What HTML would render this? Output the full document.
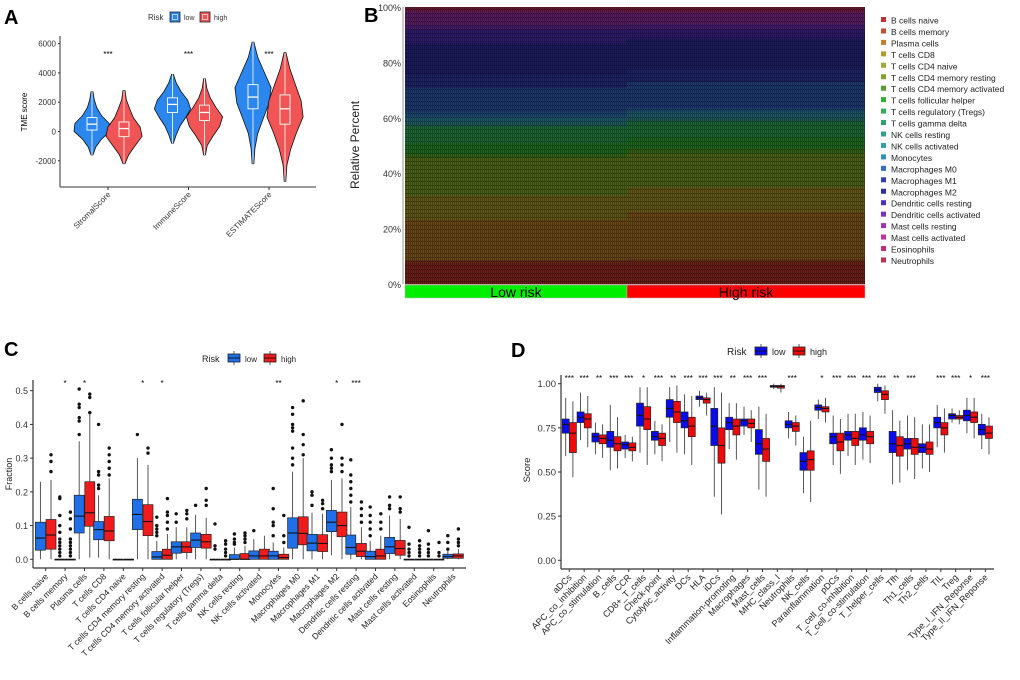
<!DOCTYPE html>
<html><head><meta charset="utf-8"><style>
html,body{margin:0;padding:0;background:#fff}
svg{display:block;font-family:"Liberation Sans",Arial,sans-serif}
</style></head><body>
<svg id="fig" width="1020" height="680" viewBox="0 0 1020 680" xmlns="http://www.w3.org/2000/svg">
<defs>
<pattern id="stripes" width="2" height="4" patternUnits="userSpaceOnUse"><rect x="0" y="0" width="0.7" height="4" fill="#000" opacity="0.45"/><rect x="1.2" y="1" width="0.8" height="1" fill="#000" opacity="0.5"/></pattern>
</defs>
<g id="A"></g><g id="B"></g><g id="C"></g><g id="D"></g>
</svg>
<script>
// ---------- Panel A data ----------
const aCats = ["StromalScore","ImmuneScore","ESTIMATEScore"];
const aTicks = [-2000,0,2000,4000,6000];
const aLow  = [[-1600,100,500,950,2700],[-800,1300,1850,2300,3900],[-2200,1550,2350,3200,6100]];
const aHigh = [[-2200,-350,200,650,2800],[-1600,750,1300,1800,3600],[-3400,500,1550,2500,5400]];
const aLowDens  = [[0.05,0.2,0.5,0.95,0.9,0.5,0.25,0.12,0.05],[0.05,0.2,0.4,0.7,0.95,0.8,0.45,0.2,0.05],[0.05,0.1,0.25,0.55,0.85,0.95,0.6,0.25,0.05]];
const aHighDens = [[0.05,0.25,0.6,0.95,0.85,0.5,0.3,0.12,0.05],[0.05,0.15,0.45,0.8,0.95,0.6,0.3,0.12,0.05],[0.04,0.1,0.3,0.6,0.95,0.85,0.55,0.25,0.05]];
const aStars = ["***","***","***"];
// ---------- Panel B data ----------
const bTypes = ["B cells naive","B cells memory","Plasma cells","T cells CD8","T cells CD4 naive","T cells CD4 memory resting","T cells CD4 memory activated","T cells follicular helper","T cells regulatory (Tregs)","T cells gamma delta","NK cells resting","NK cells activated","Monocytes","Macrophages M0","Macrophages M1","Macrophages M2","Dendritic cells resting","Dendritic cells activated","Mast cells resting","Mast cells activated","Eosinophils","Neutrophils"];
const bLowMean  = [0.08,0.01,0.15,0.09,0.001,0.14,0.015,0.04,0.06,0.005,0.01,0.02,0.02,0.09,0.05,0.115,0.05,0.02,0.045,0.005,0.005,0.01];
const bHighMean = [0.08,0.01,0.17,0.09,0.001,0.12,0.02,0.04,0.055,0.005,0.012,0.02,0.012,0.095,0.05,0.105,0.035,0.02,0.038,0.005,0.005,0.012];
const bTicks = [0,20,40,60,80,100];
const bGroups = ["Low risk","High risk"];
const bGroupN = [180,193];
// ---------- Panel C data ----------
const cCats = ["B cells naive","B cells memory","Plasma cells","T cells CD8","T cells CD4 naive","T cells CD4 memory resting","T cells CD4 memory activated","T cells follicular helper","T cells regulatory (Tregs)","T cells gamma delta","NK cells resting","NK cells activated","Monocytes","Macrophages M0","Macrophages M1","Macrophages M2","Dendritic cells resting","Dendritic cells activated","Mast cells resting","Mast cells activated","Eosinophils","Neutrophils"];
const cLow = [[0,.027,.063,.11,.23],[0,0,0,0,0],[0,.078,.128,.19,.35],[.005,.058,.088,.112,.19],[0,0,0,0,0],[0,.088,.133,.178,.30],[0,0,.007,.023,.055],[0,.018,.037,.052,.095],[0,.035,.057,.078,.132],[0,0,0,0,0],[0,0,0,.014,.035],[0,0,.01,.025,.06],[0,0,.01,.024,.05],[0,.033,.078,.123,.26],[0,.025,.048,.074,.138],[.012,.082,.11,.145,.235],[0,.015,.035,.072,.155],[0,0,.008,.024,.055],[0,.017,.037,.065,.13],[0,0,0,0,0],[0,0,0,0,0],[0,.003,.008,.015,.025]];
const cHigh = [[0,.03,.072,.118,.235],[0,0,0,0,0],[.005,.098,.138,.23,.43],[0,.055,.084,.127,.24],[0,0,0,0,0],[0,.07,.112,.162,.28],[0,0,.012,.03,.075],[0,.02,.037,.052,.095],[0,.033,.052,.074,.123],[0,0,0,0,0],[0,0,0,.017,.04],[0,0,.01,.03,.07],[0,0,.005,.015,.035],[0,.043,.077,.126,.30],[0,.023,.047,.073,.135],[0,.067,.10,.14,.24],[0,.008,.024,.047,.095],[0,0,.01,.03,.07],[0,.012,.032,.056,.12],[0,0,0,0,0],[0,0,0,0,0],[0,.003,.01,.016,.03]];
const cLowOut = [[],[.01,.02,.03,.04,.05,.06,.08,.1,.13,.18,.185],[.37,.41,.42,.45,.46,.505],[.21,.22,.25,.26,.40],[],[.37],[.07,.08,.09,.1,.125],[.11,.135],[.16],[.03,.04,.105],[.045,.05,.06,.075],[.085],[.07,.1,.11,.15,.21],[.28,.3,.33,.38,.39,.4,.43,.45],[.16,.19,.2],[.26,.27,.28,.3,.325],[.17,.19,.21,.23,.25,.295],[.07,.09,.11,.13,.155],[.15,.16,.185],[.01,.02,.03,.045,.095],[.01,.02,.03,.045,.085],[.03,.05,.07]];
const cHighOut = [[.26,.29,.31],[.01,.02,.03,.04,.05,.06,.09,.12,.14],[.435,.48,.49],[.25,.27,.29,.31,.33],[],[.315,.33],[.09,.11,.13,.14,.18],[.12,.135,.145],[.16,.175,.21],[.01,.02,.03,.045,.055],[.05,.06,.07,.078],[],[.05,.07,.13],[.31,.34,.37,.47],[.15,.165,.175],[.26,.28,.3,.4],[.11,.13,.15,.17],[.09,.11,.135],[.14,.15,.185],[.01,.02,.03,.04,.055],[.01,.02,.05],[.04,.05,.06,.09]];
const cStars = ["","*","*","","","*","*","","","","","","**","","","*","***","","","","",""];
const cTicks = [0,0.1,0.2,0.3,0.4,0.5];
// ---------- Panel D data ----------
const dCats = ["aDCs","APC_co_inhibition","APC_co_stimulation","B_cells","CCR","CD8+_T_cells","Check-point","Cytolytic_activity","DCs","HLA","iDCs","Inflammation-promoting","Macrophages","Mast_cells","MHC_class_I","Neutrophils","NK_cells","Parainflammation","pDCs","T_cell_co-inhibition","T_cell_co-stimulation","T_helper_cells","Tfh","Th1_cells","Th2_cells","TIL","Treg","Type_I_IFN_Reponse","Type_II_IFN_Reponse"];
const dLow = [[.59,.72,.77,.80,.92],[.68,.78,.81,.84,.95],[.60,.67,.70,.72,.78],[.51,.64,.68,.73,.88],[.58,.63,.655,.67,.71],[.61,.76,.82,.89,.98],[.60,.68,.70,.73,.79],[.67,.81,.86,.91,.98],[.60,.75,.79,.84,.94],[.87,.91,.92,.93,.96],[.36,.65,.76,.86,.98],[.63,.74,.78,.81,.89],[.71,.76,.79,.80,.87],[.40,.60,.66,.74,.87],[.97,.98,.985,.99,1.0],[.69,.75,.77,.79,.84],[.38,.51,.56,.61,.70],[.80,.85,.865,.88,.91],[.54,.66,.70,.72,.82],[.59,.68,.71,.73,.83],[.57,.68,.71,.75,.84],[.90,.95,.965,.98,1.0],[.43,.61,.66,.73,.85],[.51,.63,.66,.69,.82],[.52,.61,.64,.66,.77],[.64,.75,.78,.81,.88],[.78,.80,.82,.83,.86],[.72,.79,.82,.85,.92],[.63,.71,.74,.77,.83]];
const dHigh = [[.47,.61,.72,.78,.90],[.64,.75,.80,.83,.93],[.58,.66,.69,.71,.77],[.52,.62,.66,.70,.81],[.56,.62,.64,.665,.70],[.54,.74,.80,.87,.98],[.56,.65,.69,.72,.77],[.61,.78,.84,.90,.99],[.54,.70,.76,.81,.93],[.82,.89,.91,.92,.95],[.26,.55,.65,.75,.95],[.57,.71,.76,.80,.89],[.67,.75,.775,.80,.85],[.36,.56,.63,.69,.83],[.95,.975,.985,.99,1.0],[.65,.73,.76,.78,.82],[.33,.51,.57,.62,.79],[.78,.84,.86,.87,.92],[.49,.62,.67,.72,.80],[.54,.65,.69,.73,.83],[.55,.66,.70,.73,.82],[.83,.91,.94,.96,.99],[.44,.59,.65,.70,.79],[.46,.60,.64,.69,.81],[.50,.60,.63,.67,.77],[.61,.71,.75,.78,.86],[.77,.80,.81,.82,.85],[.69,.78,.81,.84,.92],[.60,.69,.72,.76,.81]];
const dStars = ["***","***","**","***","***","*","***","**","***","***","***","**","***","***","","***","","*","***","***","***","***","**","***","","***","***","*","***"];
const dTicks = [0,0.25,0.5,0.75,1.0];

const NS="http://www.w3.org/2000/svg";
function mk(parent,tag,attrs,txt){const e=document.createElementNS(NS,tag);for(const k in attrs)e.setAttribute(k,attrs[k]);if(txt!==undefined)e.textContent=txt;parent.appendChild(e);return e;}

// ===== Panel A =====
(function(){
const g=document.getElementById('A');
const X0=60,X1=316,Y0=36,Y1=187;
const y=v=>131.5-v*(29.3/2000);
const cx=i=>108+i*80.5;
let e;
e=mk(g,'text',{x:4,y:24,'font-size':20,'font-weight':'bold'},'A');


e=mk(g,'line',{x1:X0,y1:Y0,x2:X0,y2:Y1,stroke:'#333','stroke-width':1});


e=mk(g,'line',{x1:X0,y1:Y1,x2:X1,y2:Y1,stroke:'#333','stroke-width':1});


aTicks.forEach(t=>{
 e=mk(g,'text',{x:X0-4,y:y(t)+3,'font-size':8,'text-anchor':'end',fill:'#333'},String(t));
 
 
 mk(g,'line',{x1:X0-2,y1:y(t),x2:X0,y2:y(t),stroke:'#333'});
});
e=mk(g,'text',{x:0,y:0,'font-size':8,'text-anchor':'middle',transform:'translate(27,112) rotate(-90)'},'TME score');


function violin(c,q,d,fill,name){
 const n=d.length, step=(q[4]-q[0])/(n-1);
 let L=[],R=[];
 for(let k=0;k<n;k++){const yy=y(q[0]+k*step),w=d[k]*19;R.push([c+w,yy]);L.push([c-w,yy]);}
 let p='M'+c+','+y(q[0]);
 R.forEach(pt=>p+=' L'+pt[0].toFixed(1)+','+pt[1].toFixed(1));
 p+=' L'+c+','+y(q[4]);
 L.reverse().forEach(pt=>p+=' L'+pt[0].toFixed(1)+','+pt[1].toFixed(1));
 p+='Z';
 e=mk(g,'path',{d:p,fill:fill,stroke:'#111','stroke-width':0.8});
 
 
 mk(g,'line',{x1:c,y1:y(q[0]),x2:c,y2:y(q[4]),stroke:'#fff','stroke-width':0.8});
 e=mk(g,'rect',{x:c-5,y:y(q[3]),width:10,height:y(q[1])-y(q[3]),fill:fill,stroke:'#fff','stroke-width':0.9});
 
 
 mk(g,'line',{x1:c-5,y1:y(q[2]),x2:c+5,y2:y(q[2]),stroke:'#fff','stroke-width':1.3});
}
aCats.forEach((cat,i)=>{
 violin(cx(i)-16,aLow[i],aLowDens[i],'#2b86ee','a-low-'+i);
 violin(cx(i)+16,aHigh[i],aHighDens[i],'#f05454','a-high-'+i);
 mk(g,'line',{x1:cx(i),y1:Y1,x2:cx(i),y2:Y1+3,stroke:'#333'});
 e=mk(g,'text',{x:0,y:0,'font-size':8,'text-anchor':'end',fill:'#333',transform:`translate(${cx(i)+3},${Y1+8}) rotate(-45)`},cat);
 
 
 e=mk(g,'text',{x:cx(i),y:57,'font-size':8,'text-anchor':'middle'},aStars[i]);
 
 
});
e=mk(g,'text',{x:148,y:20,'font-size':8,fill:'#333'},'Risk');


[['low','#2b86ee',170],['high','#f05454',200]].forEach(l=>{
 e=mk(g,'rect',{x:l[2],y:12,width:10,height:10,fill:l[1],stroke:'#222','stroke-width':0.8});
 
 
 mk(g,'rect',{x:l[2]+2.5,y:14.5,width:5,height:5,fill:'none',stroke:'#fff','stroke-width':0.6});
 e=mk(g,'text',{x:l[2]+14,y:20,'font-size':7,fill:'#333'},l[0]);
 
 
});
})();

// ===== Panel B =====
(function(){
const g=document.getElementById('B');
const X0=405,X1=865,Y0=7,Y1=284;
const cols=["#c03030","#c05030","#c08030","#b09a30","#a0a840","#80a030","#50a030","#30b030","#30b050","#30a070","#30a090","#30a0b0","#3090c0","#3070c0","#3040b0","#3030a0","#5030c0","#8030c0","#a030b0","#c030a0","#c03080","#c03050"];
const dark=["#6e2018","#6a3018","#6e4a18","#645a18","#5e6420","#4e6418","#346418","#1e6a20","#1e6a34","#1e6048","#1e5a5a","#1e5a6a","#1e4a72","#1e3a72","#1e2468","#1e1c60","#2e1c6e","#4a1c6e","#5a1c62","#6a1c5a","#6a1c48","#6a1c30"];
let e;
e=mk(g,'text',{x:364,y:22,'font-size':20,'font-weight':'bold'},'B');


const tot=bGroupN[0]+bGroupN[1];
const xs=[X0, X0+(X1-X0)*bGroupN[0]/tot, X1];
const yv=v=>Y1-(Y1-Y0)*v;
[bLowMean,bHighMean].forEach((m,gi)=>{
 const s=m.reduce((a,b)=>a+b,0);
 let acc=0;
 m.forEach((v,k)=>{
  const f=v/s;
  e=mk(g,'rect',{x:xs[gi],y:yv(acc+f),width:xs[gi+1]-xs[gi],height:(Y1-Y0)*f+0.3,fill:dark[k]});
  
  
  acc+=f;
 });
});
e=mk(g,'rect',{x:X0,y:Y0,width:X1-X0,height:Y1-Y0,fill:'url(#stripes)'});


mk(g,'line',{x1:X0-2,y1:Y0,x2:X0-2,y2:Y1,stroke:'#555','stroke-width':0.6});
bTicks.forEach(t=>{
 e=mk(g,'text',{x:X0-4,y:yv(t/100)+4,'font-size':9,'text-anchor':'end',fill:'#333'},t+'%');
 
 
});
e=mk(g,'text',{x:0,y:0,'font-size':12,'text-anchor':'middle',fill:'#222',transform:'translate(359,145) rotate(-90)'},'Relative Percent');


[['#00ee00','#000'],['#ff0000','#000']].forEach((c,gi)=>{
 e=mk(g,'rect',{x:xs[gi],y:285,width:xs[gi+1]-xs[gi],height:13,fill:c[0],stroke:'#bbb','stroke-width':0.5});
 
 
 e=mk(g,'text',{x:(xs[gi]+xs[gi+1])/2,y:297,'font-size':14,'text-anchor':'middle',fill:c[1]},bGroups[gi]);
 
 
});
bTypes.forEach((t,k)=>{
 const yy=21+k*11.45;
 e=mk(g,'rect',{x:881,y:yy-4,width:5,height:5,fill:cols[k]});
 
 
 e=mk(g,'text',{x:891,y:yy+2.5,'font-size':8.5,fill:'#222'},t);
 
 
});
})();

// ===== Box plot helper =====
function boxPanel(cfg){
 const g=document.getElementById(cfg.id);
 let e;
 e=mk(g,'text',{x:cfg.lx,y:cfg.ly,'font-size':20,'font-weight':'bold'},cfg.letter);
 
 
 const y=cfg.y;
 e=mk(g,'line',{x1:cfg.X0,y1:cfg.Y0,x2:cfg.X0,y2:cfg.Y1,stroke:'#333','stroke-width':1.2});
 
 
 e=mk(g,'line',{x1:cfg.X0,y1:cfg.Y1,x2:cfg.X1,y2:cfg.Y1,stroke:'#333','stroke-width':1.2});
 
 
 cfg.ticks.forEach(t=>{
  mk(g,'line',{x1:cfg.X0-3,y1:y(t),x2:cfg.X0,y2:y(t),stroke:'#333'});
  e=mk(g,'text',{x:cfg.X0-5,y:y(t)+3.5,'font-size':cfg.tfs,'text-anchor':'end',fill:'#333'},cfg.fmt(t));
  
  
 });
 e=mk(g,'text',{x:0,y:0,'font-size':cfg.tfs,'text-anchor':'middle',fill:'#222',transform:`translate(${cfg.ytx},${cfg.yty}) rotate(-90)`},cfg.ytitle);
 
 
 const bw=cfg.bw;
 function box(c,q,fill,outs,name){
  mk(g,'line',{x1:c,y1:y(q[0]),x2:c,y2:y(q[4]),stroke:'#444','stroke-width':0.9});
  e=mk(g,'rect',{x:c-bw/2,y:y(q[3]),width:bw,height:Math.max(0.8,y(q[1])-y(q[3])),fill:fill,stroke:'#222','stroke-width':0.7});
  
  
  mk(g,'line',{x1:c-bw/2,y1:y(q[2]),x2:c+bw/2,y2:y(q[2]),stroke:'#111','stroke-width':1.1});
  (outs||[]).forEach(o=>{
   e=mk(g,'circle',{cx:c,cy:y(o),r:1.7,fill:'#111'});
   
   
  });
 }
 cfg.cats.forEach((cat,i)=>{
  const cx=cfg.cx(i);
  box(cx-cfg.off,cfg.low[i],cfg.lc,cfg.lowOut?cfg.lowOut[i]:null,'box-low-'+i);
  box(cx+cfg.off,cfg.high[i],cfg.hc,cfg.highOut?cfg.highOut[i]:null,'box-high-'+i);
  mk(g,'line',{x1:cx,y1:cfg.Y1,x2:cx,y2:cfg.Y1+3,stroke:'#333'});
  e=mk(g,'text',{x:0,y:0,'font-size':cfg.xfs,'text-anchor':'end',fill:'#222',transform:`translate(${cx+3},${cfg.Y1+9}) rotate(-45)`},cat);
  
  
  if(cfg.stars[i]){
   e=mk(g,'text',{x:cx,y:cfg.sy,'font-size':8,'text-anchor':'middle'},cfg.stars[i]);
   
   
  }
 });
 const L=cfg.leg;
 e=mk(g,'text',{x:L.x,y:L.y+4,'font-size':L.fs+1,fill:'#222'},'Risk');
 
 
 [['low',cfg.lc,L.lowX],['high',cfg.hc,L.highX]].forEach(l=>{
  mk(g,'line',{x1:l[2]+6,y1:L.y-7,x2:l[2]+6,y2:L.y+7,stroke:'#333','stroke-width':0.8});
  e=mk(g,'rect',{x:l[2],y:L.y-4,width:12,height:8,fill:l[1],stroke:'#222','stroke-width':0.8});
  
  
  mk(g,'line',{x1:l[2],y1:L.y,x2:l[2]+12,y2:L.y,stroke:'#111','stroke-width':0.9});
  e=mk(g,'text',{x:l[2]+17,y:L.y+4,'font-size':L.fs,fill:'#222'},l[0]);
  
  
 });
}

boxPanel({id:'C',letter:'C',lx:4,ly:356,X0:33,X1:466,Y0:380,Y1:568,
 y:v=>559.3-v*337.2, ticks:cTicks, fmt:t=>t.toFixed(1), tfs:9, ytitle:'Fraction', ytx:12, yty:474,
 cats:cCats, cx:i=>45.7+i*19.4, off:5.3, bw:10, low:cLow, high:cHigh, lowOut:cLowOut, highOut:cHighOut,
 lc:'#1f6fe8', hc:'#f01c1c', stars:cStars, sy:386, xfs:8.5,
 leg:{x:202,y:358,lowX:228,highX:264,fs:8}});

boxPanel({id:'D',letter:'D',lx:511,ly:357,X0:561,X1:994,Y0:375,Y1:569,
 y:v=>560.3-v*176.6, ticks:dTicks, fmt:t=>t.toFixed(2), tfs:9.5, ytitle:'Score', ytx:530, yty:470,
 cats:dCats, cx:i=>569.3+i*14.86, off:3.6, bw:7, low:dLow, high:dHigh,
 lc:'#0a0aee', hc:'#ee0a0a', stars:dStars, sy:381, xfs:9,
 leg:{x:727,y:351,lowX:755,highX:793,fs:9}});
</script>
</body></html>
